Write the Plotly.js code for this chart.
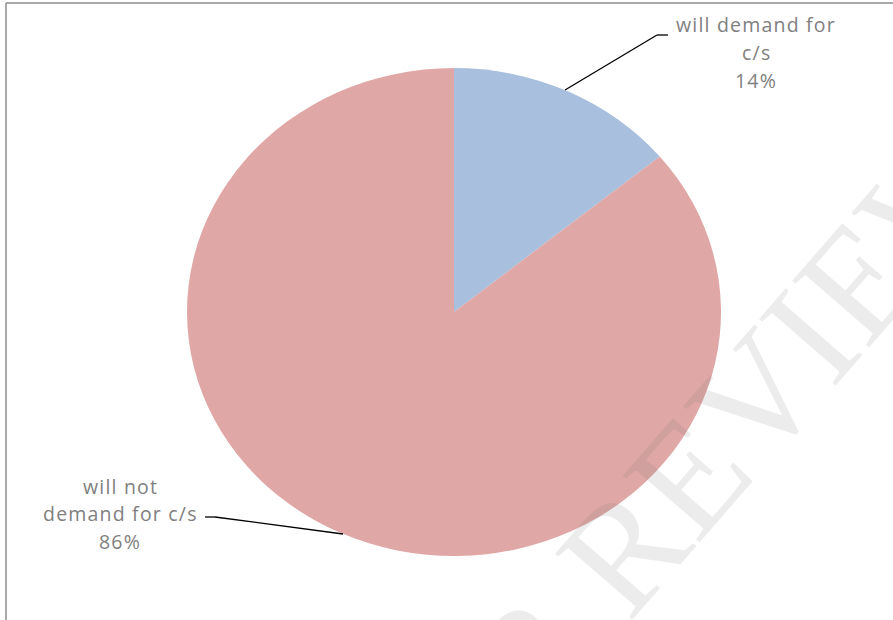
<!DOCTYPE html>
<html>
<head>
<meta charset="utf-8">
<script src="https://cdn.plot.ly/plotly-3.0.1.min.js"></script>
<style>html,body{margin:0;padding:0;background:#fff;} #chart{width:893px;height:620px;}</style>
</head>
<body>
<div id="chart"></div>
<script>
// ---- data ----
const categories = ["will demand for c/s", "will not demand for c/s"];
const labelLines = [["will demand for", "c/s"], ["will not", "demand for c/s"]];
const values = [14, 86];
const sliceColors = ["#A8BFDE", "#DFA7A6"];

// ---- layout helpers ----
const W = 893, H = 620;
const px = x => x / W;
const py = y => (H - y) / H;

const total = values.reduce((a, b) => a + b, 0);
const pct = values.map(v => Math.round(v / total * 100) + "%");

const labelFont = {family: "'Open Sans', sans-serif", size: 19.5, color: "#808080"};
const labelAnchors = [
  {x: 756, ys: [25, 53, 80]},
  {x: 120, ys: [486, 513, 541]}
];
const spaced = t => "<span style='letter-spacing:1.2px'>" + t + "</span>";

const annotations = [];
labelAnchors.forEach((a, i) => {
  const lines = labelLines[i].concat([pct[i]]);
  lines.forEach((t, j) => {
    annotations.push({
      xref: "paper", yref: "paper", x: px(a.x), y: py(a.ys[j]),
      xanchor: "center", yanchor: "middle", showarrow: false,
      text: spaced(t), font: labelFont
    });
  });
});

// watermark
annotations.push({
  xref: "paper", yref: "paper", x: px(650), y: py(520),
  xanchor: "center", yanchor: "middle", showarrow: false,
  text: "PEER REVIEW", textangle: -49,
  font: {family: "'Liberation Serif', 'DejaVu Serif', serif", size: 155, color: "rgba(120,120,120,0.14)"}
});

const lineStyle = {color: "#000000", width: 1.3};
const shapes = [
  // frame
  {type: "line", xref: "paper", yref: "paper", x0: px(6), x1: px(6), y0: py(3), y1: py(625), line: {color: "#8c8c8c", width: 1.5}},
  {type: "line", xref: "paper", yref: "paper", x0: px(6), x1: px(900), y0: py(3), y1: py(3), line: {color: "#8c8c8c", width: 1.5}}
];
function leader(pts) {
  for (let k = 0; k < pts.length - 1; k++) {
    shapes.push({type: "line", xref: "paper", yref: "paper",
      x0: px(pts[k][0]), y0: py(pts[k][1]), x1: px(pts[k + 1][0]), y1: py(pts[k + 1][1]), line: lineStyle});
  }
}
leader([[565, 90], [657, 35], [668, 35]]);
leader([[205, 517], [215, 517], [343, 534]]);

const trace = {
  type: "pie",
  labels: categories,
  values: values,
  sort: false,
  direction: "clockwise",
  rotation: 0,
  marker: {colors: sliceColors, line: {width: 0}},
  textinfo: "none",
  hoverinfo: "none",
  showlegend: false,
  domain: {x: [px(454 - 244), px(454 + 244)], y: [py(556), py(68)]}
};

const layout = {
  width: W, height: H,
  margin: {l: 0, r: 0, t: 0, b: 0},
  paper_bgcolor: "#ffffff",
  showlegend: false,
  annotations: annotations,
  shapes: shapes
};

Plotly.newPlot("chart", [trace], layout, {displayModeBar: false, staticPlot: true}).then(gd => {
  // stretch the circular pie horizontally into the ellipse of the original
  const cd0 = gd.calcdata[0][0];
  const cx = cd0.cx, cy = cd0.cy;
  const sx = 267 / 244;
  document.querySelectorAll(".pielayer").forEach(g => {
    g.setAttribute("transform", `translate(${cx},${cy}) scale(${sx},1) translate(${-cx},${-cy})`);
  });
});
</script>
</body>
</html>
